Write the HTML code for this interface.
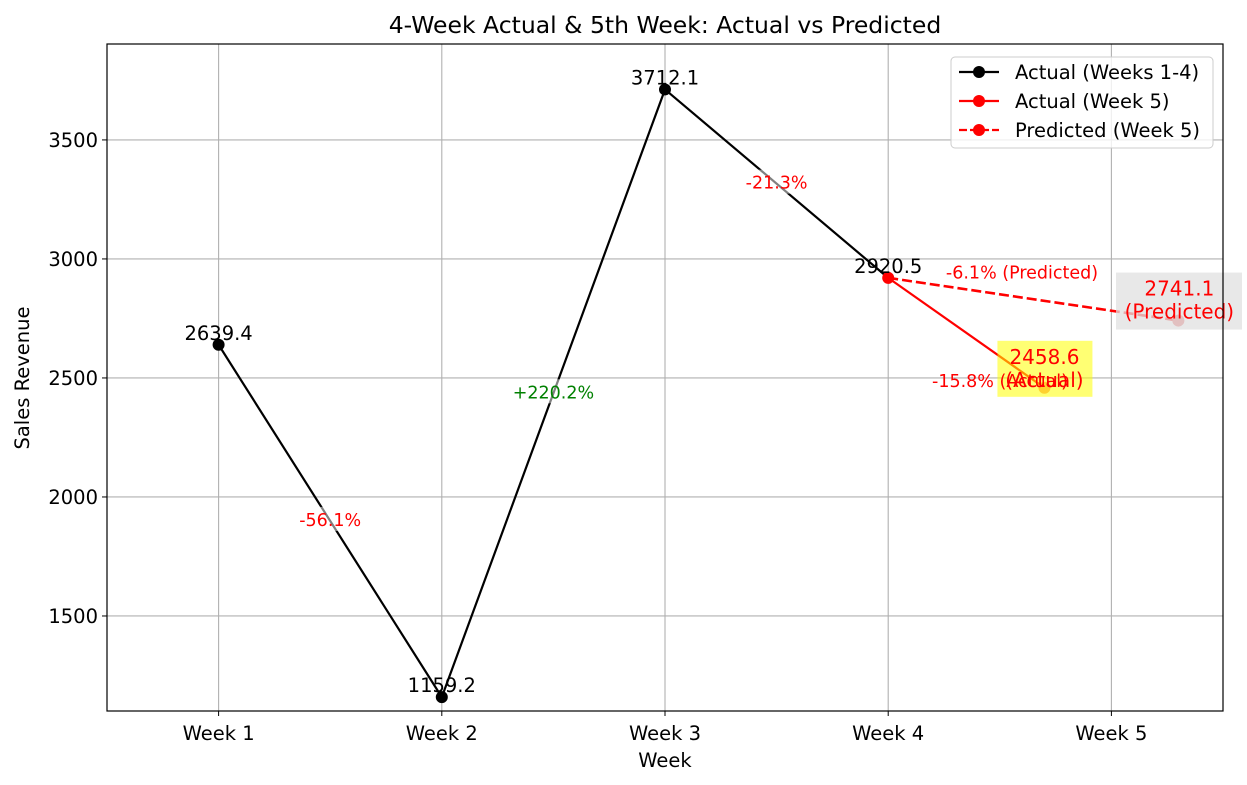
<!DOCTYPE html>
<html><head><meta charset="utf-8"><style>
body{margin:0;background:#fff}
svg{display:block;font-family:"DejaVu Sans","Liberation Sans",sans-serif}
</style></head><body>
<svg id="chart" width="1247" height="785"></svg>
<script>
const categories=["Week 1","Week 2","Week 3","Week 4","Week 5"];
const actualValues=[2639.4,1159.2,3712.1,2920.5];
const week5Actual=2458.6;
const week5Predicted=2741.1;
const yTicks=[1500,2000,2500,3000,3500];
const pctLabels=["-56.1%","+220.2%","-21.3%"];
const predPctLabel="-6.1% (Predicted)";
const actPctLabel="-15.8% (Actual)";

const L=107,R=1223,T=44,B=711;
const xMin=-0.5,xMax=4.5,yMin=1100.8,yMax=3903;
const X=v=>L+(v-xMin)/(xMax-xMin)*(R-L);
const Y=v=>B-(v-yMin)/(yMax-yMin)*(B-T);
const svg=document.getElementById('chart');
const NS='http://www.w3.org/2000/svg';
function mk(tag,attrs,parent){const e=document.createElementNS(NS,tag);for(const k in attrs)e.setAttribute(k,attrs[k]);(parent||svg).appendChild(e);return e;}
function txt(s,x,y,attrs){const e=mk('text',Object.assign({x:x,y:y},attrs));e.textContent=s;return e;}

categories.forEach((c,i)=>{const g=mk('line',{x1:X(i),x2:X(i),y1:T,y2:B,stroke:'#b0b0b0','stroke-width':1.1});
});
yTicks.forEach(t=>{const g=mk('line',{x1:L,x2:R,y1:Y(t),y2:Y(t),stroke:'#b0b0b0','stroke-width':1.1});
});

categories.forEach((c,i)=>{mk('line',{x1:X(i),x2:X(i),y1:B,y2:B+5,stroke:'#000'});
const t=txt(c,X(i),B+29,{'text-anchor':'middle','font-size':19.5});
});
yTicks.forEach(v=>{mk('line',{x1:L-5,x2:L,y1:Y(v),y2:Y(v),stroke:'#000'});
const t=txt(String(v),L-9,Y(v)+7,{'text-anchor':'end','font-size':19.5});
});

const pts=actualValues.map((v,i)=>X(i)+','+Y(v)).join(' ');
const pl=mk('polyline',{points:pts,fill:'none',stroke:'#000','stroke-width':2.2});

actualValues.forEach((v,i)=>{if(i<3){const m=mk('circle',{cx:X(i),cy:Y(v),r:6,fill:'#000'});
}});

const x4=X(3),y4=Y(actualValues[3]);
const xa=X(3.7),ya=Y(week5Actual),xp=X(4.3),yp=Y(week5Predicted);
const la=mk('line',{x1:x4,y1:y4,x2:xa,y2:ya,stroke:'red','stroke-width':2.2});

const lp=mk('line',{x1:x4,y1:y4,x2:xp,y2:yp,stroke:'red','stroke-width':2.6,'stroke-dasharray':'10,4'});

const m4=mk('circle',{cx:x4,cy:y4,r:6,fill:'red'});

const ma=mk('circle',{cx:xa,cy:ya,r:6,fill:'#ff9966'});

const mp=mk('circle',{cx:xp,cy:yp,r:6,fill:'#e86060'});


actualValues.forEach((v,i)=>{const t=txt(v.toFixed(1),X(i),Y(v)-5,{'text-anchor':'middle','font-size':19.5});
});

pctLabels.forEach((s,i)=>{const mx=(X(i)+X(i+1))/2,my=(Y(actualValues[i])+Y(actualValues[i+1]))/2;
mk('rect',{x:mx-50,y:my-14,width:100,height:24,fill:'#fff','fill-opacity':0.5});
const t=txt(s,mx,my+5,{'text-anchor':'middle','font-size':17.5,fill:i===1?'green':'red'});
});

const tp=txt(predPctLabel,1022,Y(week5Predicted)-36-6,{'text-anchor':'middle','font-size':17.5,fill:'red'});


mk('rect',{x:xa-47,y:ya-47,width:95,height:56,fill:'#ffff00','fill-opacity':0.55});
const t1=txt(week5Actual.toFixed(1),xa,ya-24,{'text-anchor':'middle','font-size':20,fill:'red'});

txt('(Actual)',xa,ya-1,{'text-anchor':'middle','font-size':20,fill:'red'});
const ta=txt(actPctLabel,1000,ya-1,{'text-anchor':'middle','font-size':17.5,fill:'red'});

mk('rect',{x:1116,y:yp-48,width:126,height:57,fill:'#e0e0e0','fill-opacity':0.75});
const t2=txt(week5Predicted.toFixed(1),xp+1,yp-25,{'text-anchor':'middle','font-size':20,fill:'red'});

txt('(Predicted)',xp+1,yp-2,{'text-anchor':'middle','font-size':20,fill:'red'});

mk('rect',{x:L,y:T,width:R-L,height:B-T,fill:'none',stroke:'#000','stroke-width':1.2});

const ti=txt('4-Week Actual & 5th Week: Actual vs Predicted',665,33,{'text-anchor':'middle','font-size':23.5});

const xt=txt('Week',665,767,{'text-anchor':'middle','font-size':19.5});

const yt=txt('Sales Revenue',29,378,{'text-anchor':'middle','font-size':19.5,transform:'rotate(-90 29 378)'});


const lg=mk('g',{});

mk('rect',{x:951,y:57,width:262,height:91,rx:4,fill:'#fff','fill-opacity':0.8,stroke:'#ccc'},lg);
[['Actual (Weeks 1-4)','#000',null],['Actual (Week 5)','red',null],['Predicted (Week 5)','red','8,3']].forEach((e,i)=>{
const y=72+i*29;
const g=mk('g',{},lg);

const a={x1:959,x2:999,y1:y,y2:y,stroke:e[1],'stroke-width':2.2};if(e[2])a['stroke-dasharray']=e[2];
mk('line',a,g);mk('circle',{cx:979,cy:y,r:6,fill:e[1]},g);
const t=mk('text',{x:1015,y:y+7,'font-size':19.5},g);t.textContent=e[0];});
</script>
</body></html>
